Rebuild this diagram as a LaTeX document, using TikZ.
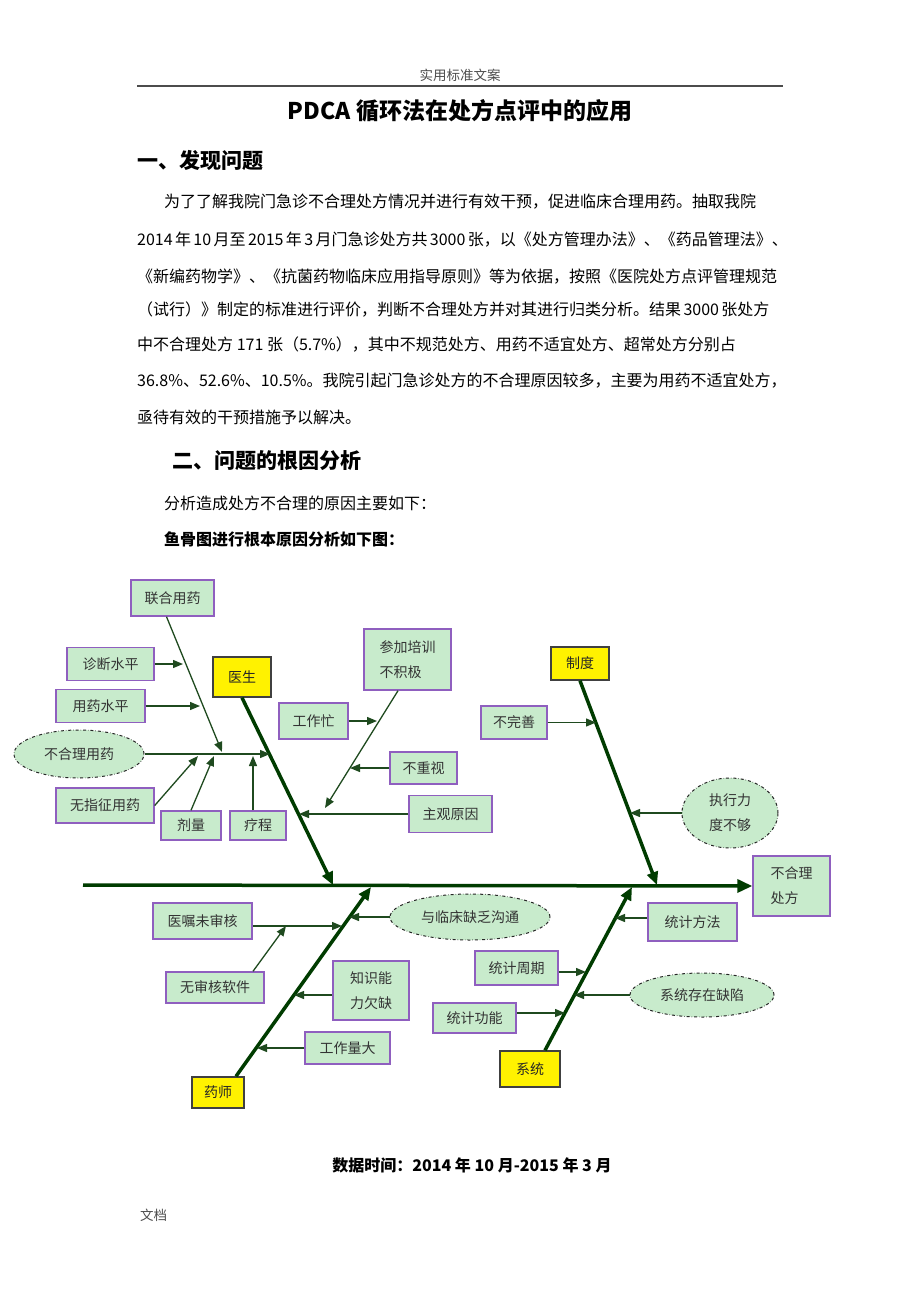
\documentclass[tikz,border=0pt]{standalone}
\usepackage{fontspec}
\setmainfont{Noto Sans CJK SC}
\XeTeXlinebreaklocale "zh"
\XeTeXlinebreakskip = 0pt plus 1pt minus 0.4pt
\usetikzlibrary{arrows.meta,shapes.geometric}
\definecolor{bonegreen}{HTML}{003C00}
\definecolor{twiggreen}{HTML}{1F4A1F}
\definecolor{boxgreen}{HTML}{C8EBCC}
\definecolor{boxpurple}{HTML}{8F5FBF}

\tikzset{
  bodytext/.style={anchor=west,inner sep=0pt,font=\fontsize{16}{16}\selectfont},
  heading/.style={anchor=west,inner sep=0pt,font=\bfseries\fontsize{21}{22}\selectfont},
  causebox/.style={draw=boxpurple,fill=boxgreen,line width=1.4pt,inner sep=0pt,
    align=left,text=black!80,font=\fontsize{14}{25}\selectfont},
  catbox/.style={draw=black!75,fill=yellow,line width=1.4pt,inner sep=0pt,
    text=black!85,font=\fontsize{14}{15}\selectfont},
  causeoval/.style={ellipse,draw=black!85,dashdotted,fill=boxgreen,line width=1pt,
    inner sep=0pt,align=left,text=black!80,font=\fontsize{14}{25}\selectfont},
  bone/.style={line width=3.5pt,draw=bonegreen,-{Triangle[length=13pt,width=11pt]}},
  twig/.style={line width=1.3pt,draw=twiggreen,-{Triangle[length=10pt,width=8pt]}}
}

\begin{document}
\begin{tikzpicture}[x=1pt,y=-1pt]
  \useasboundingbox[fill=white] (0,0) rectangle (920,1302);

  % page text
  \node[font=\fontsize{13.5}{14}\selectfont,text=black!70] (header) at (460,75) {实用标准文案};
  \draw[line width=1.2pt,black!70] (137,86) -- (783,86);
  \node[font=\bfseries\fontsize{23}{24}\selectfont] (title) at (460,111) {PDCA 循环法在处方点评中的应用};
  \node[heading] (sec1) at (137,160) {一、发现问题};
  \node[bodytext] (p1) at (164,202) {\makebox[599pt][s]{为了了解我院门急诊不合理处方情况并进行有效干预，促进临床合理用药。抽取我院}};
  \node[bodytext] (p2) at (137,240) {\makebox[631pt][s]{2014 年 10 月至 2015 年 3 月门急诊处方共 3000 张，以《处方管理办法》、《药品管理法》、}};
  \node[bodytext] (p3) at (137,277) {\makebox[631pt][s]{《新编药物学》、《抗菌药物临床应用指导原则》等为依据，按照《医院处方点评管理规范}};
  \node[bodytext] (p4) at (137,310) {\makebox[631pt][s]{（试行）》制定的标准进行评价，判断不合理处方并对其进行归类分析。结果 3000 张处方}};
  \node[bodytext] (p5) at (137,345) {中不合理处方 171 张（5.7\%），其中不规范处方、用药不适宜处方、超常处方分别占};
  \node[bodytext] (p6) at (137,381) {\makebox[631pt][s]{36.8\%、52.6\%、10.5\%。我院引起门急诊处方的不合理原因较多，主要为用药不适宜处方，}};
  \node[bodytext] (p7) at (137,417) {亟待有效的干预措施予以解决。};
  \node[heading] (sec2) at (172,461) {二、问题的根因分析};
  \node[bodytext] (a1) at (164,503) {分析造成处方不合理的原因主要如下：};
  \node[bodytext,font=\bfseries\fontsize{16}{16}\selectfont] (a2) at (164,539) {鱼骨图进行根本原因分析如下图：};
  \node[font=\bfseries\fontsize{16}{16}\selectfont] (datetime) at (472,1165) {数据时间：2014 年 10 月-2015 年 3 月};
  \node[bodytext,font=\fontsize{13.5}{14}\selectfont,text=black!70] (footer) at (140,1215) {文档};

  % head and spine
  \node[causebox,minimum width=77pt,minimum height=60pt] (effect) at (791.5,886) {不合理\\处方};
  \coordinate (tail) at (83,885);
  \draw[line width=3.5pt,draw=bonegreen,-{Triangle[length=15pt,width=13pt]}] (tail) -- (effect.west);

  % categories
  \node[catbox,minimum width=58pt,minimum height=40pt] (doctor) at (242,677) {医生};
  \node[catbox,minimum width=58pt,minimum height=33pt] (policy) at (580,663.5) {制度};
  \node[catbox,minimum width=52pt,minimum height=31pt] (pharm) at (218,1092.5) {药师};
  \node[catbox,minimum width=60pt,minimum height=36pt] (system) at (530,1069) {系统};

  \coordinate (dtip) at (333,885);
  \coordinate (ptip) at (657,885);
  \coordinate (htip) at (371,887);
  \coordinate (stip) at (632,887);
  \draw[bone] (doctor.south) -- (dtip);
  \draw[bone] (policy.south) -- (ptip);
  \draw[bone] ([xshift=18pt]pharm.north) -- (htip);
  \draw[bone] ([xshift=15pt]system.north) -- (stip);

  % doctor, left side
  \node[causebox,minimum width=83pt,minimum height=36pt] (combo) at (172.5,598) {联合用药};
  \node[causebox,minimum width=87pt,minimum height=33pt] (diag) at (110.5,664) {诊断水平};
  \node[causebox,minimum width=89pt,minimum height=33pt] (level) at (100.5,706) {用药水平};
  \node[causeoval,minimum width=130pt,minimum height=48pt] (irr) at (79,754) {不合理用药};
  \node[causebox,minimum width=98pt,minimum height=35pt] (noind) at (105,805.5) {无指征用药};
  \node[causebox,minimum width=60pt,minimum height=29pt] (dose) at (191,825.5) {剂量};
  \node[causebox,minimum width=56pt,minimum height=29pt] (course) at (258,825.5) {疗程};

  \coordinate (combotip) at (222,752);
  \coordinate (diagtip) at (183,664);
  \coordinate (leveltip) at (200,706);
  \coordinate (irrtip) at (270,754);
  \coordinate (noindtip) at (198,756);
  \coordinate (dosetip) at (214,756);
  \coordinate (coursetip) at (253,756);
  \draw[twig] ([xshift=-6pt]combo.south) -- (combotip);
  \draw[twig] (diag.east) -- (diagtip);
  \draw[twig] (level.east) -- (leveltip);
  \draw[twig] (irr.east) -- (irrtip);
  \draw[twig] (noind.east) -- (noindtip);
  \draw[twig] (dose.north) -- (dosetip);
  \draw[twig] ([xshift=-5pt]course.north) -- (coursetip);

  % doctor, right side
  \node[causebox,minimum width=87pt,minimum height=61pt] (train) at (407.5,659.5) {参加培训\\不积极};
  \node[causebox,minimum width=69pt,minimum height=36pt] (busy) at (313.5,721) {工作忙};
  \node[causebox,minimum width=67pt,minimum height=32pt] (neglect) at (423.5,768) {不重视};
  \node[causebox,minimum width=83pt,minimum height=37pt] (subj) at (450.5,814) {主观原因};

  \coordinate (traintip) at (325,808);
  \coordinate (busytip) at (377,721);
  \coordinate (neglecttip) at (350,768);
  \coordinate (subjtip) at (299,814);
  \draw[twig] ([xshift=-9.5pt]train.south) -- (traintip);
  \draw[twig] (busy.east) -- (busytip);
  \draw[twig] (neglect.west) -- (neglecttip);
  \draw[twig] (subj.west) -- (subjtip);

  % policy
  \node[causebox,minimum width=66pt,minimum height=33pt] (imperfect) at (514,722.5) {不完善};
  \node[causeoval,minimum width=96pt,minimum height=70pt] (exec) at (730,813) {执行力\\度不够};
  \coordinate (imperfecttip) at (596,722.5);
  \coordinate (exectip) at (630,813);
  \draw[twig] (imperfect.east) -- (imperfecttip);
  \draw[twig] (exec.west) -- (exectip);

  % pharmacist
  \node[causebox,minimum width=99pt,minimum height=36pt] (unreviewed) at (202.5,921) {医嘱未审核};
  \node[causebox,minimum width=98pt,minimum height=31pt] (nosoft) at (215,987.5) {无审核软件};
  \node[causeoval,minimum width=160pt,minimum height=46pt] (comm) at (470,917) {与临床缺乏沟通};
  \node[causebox,minimum width=76pt,minimum height=59pt] (skill) at (371,990.5) {知识能\\力欠缺};
  \node[causebox,minimum width=85pt,minimum height=32pt] (workload) at (347.5,1048) {工作量大};

  \coordinate (unreviewedtip) at (342,926);
  \coordinate (nosofttip) at (286,926);
  \coordinate (commtip) at (349,917);
  \coordinate (skilltip) at (294,995);
  \coordinate (workloadtip) at (257,1048);
  \draw[twig] (unreviewed.east |- unreviewedtip) -- (unreviewedtip);
  \draw[twig] ([xshift=38pt]nosoft.north) -- (nosofttip);
  \draw[twig] (comm.west) -- (commtip);
  \draw[twig] (skill.west |- skilltip) -- (skilltip);
  \draw[twig] (workload.west) -- (workloadtip);

  % system
  \node[causebox,minimum width=89pt,minimum height=38pt] (method) at (692.5,922) {统计方法};
  \node[causeoval,minimum width=144pt,minimum height=44pt] (defect) at (702,995) {系统存在缺陷};
  \node[causebox,minimum width=83pt,minimum height=34pt] (period) at (516.5,968) {统计周期};
  \node[causebox,minimum width=83pt,minimum height=30pt] (func) at (474.5,1018) {统计功能};

  \coordinate (methodtip) at (615,918);
  \coordinate (defecttip) at (574,995);
  \coordinate (periodtip) at (586,972);
  \coordinate (functip) at (565,1013);
  \draw[twig] (method.west |- methodtip) -- (methodtip);
  \draw[twig] (defect.west) -- (defecttip);
  \draw[twig] (period.east |- periodtip) -- (periodtip);
  \draw[twig] (func.east |- functip) -- (functip);
\end{tikzpicture}
\end{document}
